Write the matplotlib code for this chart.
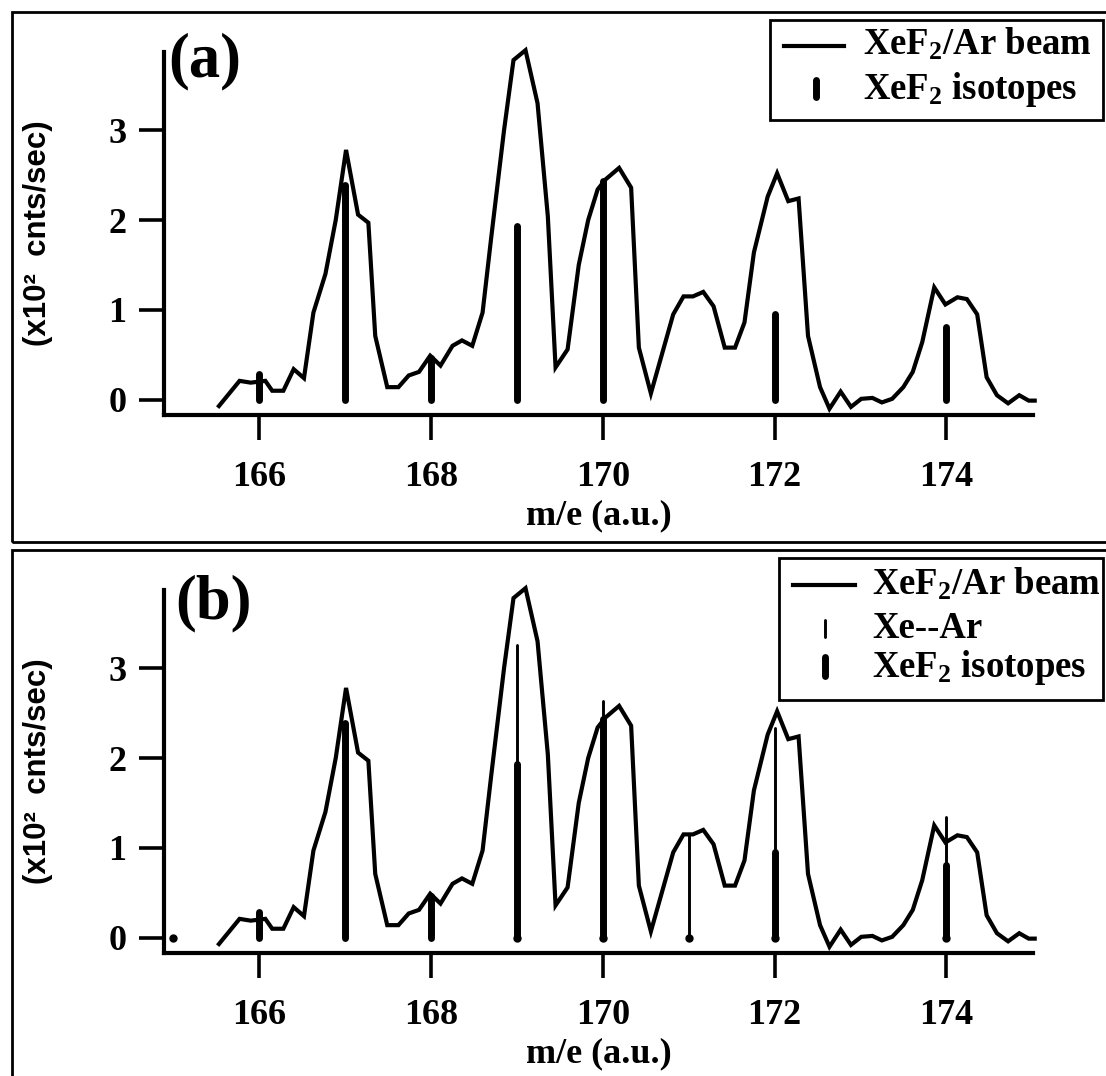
import matplotlib
matplotlib.use('Agg')
import matplotlib.pyplot as plt
from matplotlib.lines import Line2D
from matplotlib.patches import Rectangle

# ---------------- data ----------------
mass = [165.53, 165.77, 165.90, 166.07, 166.15, 166.28, 166.40, 166.52, 166.63, 166.77,
        166.89, 167.01, 167.15, 167.27, 167.35, 167.49, 167.62, 167.74, 167.86, 167.99,
        168.11, 168.25, 168.36, 168.48, 168.60, 168.70, 168.85, 168.96, 169.10, 169.24,
        169.36, 169.45, 169.59, 169.72, 169.83, 169.94, 170.03, 170.19, 170.33, 170.42,
        170.56, 170.82, 170.94, 171.05, 171.17, 171.29, 171.42, 171.54, 171.65, 171.76,
        171.92, 172.03, 172.16, 172.28, 172.39, 172.53, 172.64, 172.77, 172.89, 173.01,
        173.14, 173.25, 173.37, 173.50, 173.61, 173.72, 173.86, 173.99, 174.13, 174.24,
        174.36, 174.47, 174.59, 174.72, 174.85, 174.96, 175.03]
signal = [-0.07, 0.21, 0.19, 0.21, 0.10, 0.10, 0.34, 0.24, 0.97, 1.40,
          2.00, 2.78, 2.06, 1.97, 0.71, 0.14, 0.14, 0.27, 0.31, 0.49,
          0.38, 0.60, 0.66, 0.60, 0.97, 1.80, 3.00, 3.78, 3.89, 3.30,
          2.04, 0.36, 0.56, 1.50, 2.00, 2.34, 2.45, 2.58, 2.36, 0.58,
          0.07, 0.95, 1.15, 1.15, 1.20, 1.04, 0.58, 0.58, 0.86, 1.64,
          2.26, 2.52, 2.21, 2.24, 0.71, 0.14, -0.10, 0.09, -0.08, 0.01,
          0.02, -0.03, 0.01, 0.14, 0.31, 0.64, 1.25, 1.06, 1.14, 1.12,
          0.95, 0.25, 0.05, -0.04, 0.05, -0.01, -0.01]

xef2_mass = [166, 167, 168, 169, 170, 172, 174]
xef2_height = [0.29, 2.39, 0.46, 1.93, 2.43, 0.95, 0.81]

xear_mass = [165, 169, 170, 171, 172, 174]
xear_height = [0.0, 3.26, 2.64, 1.14, 2.33, 1.34]

xticks = [166, 168, 170, 172, 174]
yticks = [0, 1, 2, 3]

beam_label = 'XeF$_2$/Ar beam'
iso_label = 'XeF$_2$ isotopes'
xear_label = 'Xe--Ar'
xlabel = 'm/e (a.u.)'
ylabel = '(x10²  cnts/sec)'

# ---------------- style ----------------
W, H = 1106, 1076
plt.rcParams.update({
    'font.family': ['Liberation Serif', 'DejaVu Serif'],
    'font.weight': 'bold',
    'axes.labelweight': 'bold',
    'mathtext.fontset': 'custom',
    'mathtext.rm': 'Liberation Serif:bold',
    'mathtext.bf': 'Liberation Serif:bold',
    'mathtext.it': 'Liberation Serif:bold',
})

fig = plt.figure(figsize=(W / 100, H / 100), dpi=100)


def fx(x):
    return x / W


def fy(y):
    return 1 - y / H


LW_CURVE = 3.0
LW_THICK = 5.0
LW_THIN = 2.1


def make_panel(top_px, bottom_px, tag, tag_xy, with_xear):
    ax = fig.add_axes([fx(164), fy(bottom_px), (1033 - 164) / W, (bottom_px - top_px) / H])
    ax.set_xlim(164.89, 175.01)
    ax.set_ylim(-0.17, 3.87)
    ax.patch.set_alpha(0)
    for s in ['top', 'right']:
        ax.spines[s].set_visible(False)
    for s in ['left', 'bottom']:
        ax.spines[s].set_linewidth(3.0)
        ax.spines[s].set_capstyle('projecting')
    ax.set_xticks(xticks)
    ax.set_yticks(yticks)
    ax.tick_params(direction='out', length=18, width=2.6, labelsize=26)
    ax.tick_params(axis='x', pad=15)
    ax.tick_params(axis='y', pad=9)

    ax.vlines(xef2_mass, 0, xef2_height, colors='k', linewidth=LW_THICK,
              capstyle='round', clip_on=False)
    if with_xear:
        ax.vlines(xear_mass, 0, xear_height, colors='k', linewidth=LW_THIN,
                  capstyle='round', clip_on=False)
        ax.plot(xear_mass, [0] * len(xear_mass), 'o', color='k', ms=5, clip_on=False)
    ax.plot(mass, signal, color='k', lw=LW_CURVE, clip_on=False, solid_joinstyle='miter')

    ax.set_xlabel(xlabel, fontsize=26, fontweight='bold')
    ax.xaxis.set_label_coords(0.5, -0.232)
    ax.set_ylabel(ylabel, fontsize=22.5, fontfamily='Liberation Sans', fontweight='bold')
    ax.yaxis.set_label_coords((53 - 164) / (1033 - 164), 0.5)

    fig.text(fx(tag_xy[0]), fy(tag_xy[1]), tag, fontsize=45, ha='left', va='baseline')
    return ax


make_panel(52, 415, '(a)', (168, 76), False)
make_panel(590, 953, '(b)', (175, 618), True)

# ---------------- frames ----------------
fig.add_artist(Rectangle((fx(12), fy(542)), (1130 - 12) / W, (542 - 12) / H,
                         transform=fig.transFigure, fill=False, lw=2.0, ec='k'))
fig.add_artist(Rectangle((fx(12), fy(1100)), (1130 - 12) / W, (1100 - 550) / H,
                         transform=fig.transFigure, fill=False, lw=2.0, ec='k'))

# ---------------- legends ----------------
# (a)
fig.add_artist(Rectangle((fx(770), fy(120)), (1103 - 770) / W, (120 - 20) / H,
                         transform=fig.transFigure, fill=True, fc='white', lw=2.0, ec='k'))
fig.add_artist(Line2D([fx(784), fx(844)], [fy(46), fy(46)], lw=LW_CURVE, color='k',
                      transform=fig.transFigure))
fig.add_artist(Line2D([fx(816), fx(816)], [fy(80), fy(97)], lw=LW_THICK, color='k',
                      solid_capstyle='round', transform=fig.transFigure))
fig.text(fx(863), fy(55), beam_label, fontsize=26.5, ha='left', va='baseline')
fig.text(fx(863), fy(99), iso_label, fontsize=26.5, ha='left', va='baseline')

# (b)
fig.add_artist(Rectangle((fx(779), fy(700)), (1103 - 779) / W, (700 - 558) / H,
                         transform=fig.transFigure, fill=True, fc='white', lw=2.0, ec='k'))
fig.add_artist(Line2D([fx(793), fx(855)], [fy(585), fy(585)], lw=LW_CURVE, color='k',
                      transform=fig.transFigure))
fig.add_artist(Line2D([fx(825), fx(825)], [fy(620), fy(637)], lw=LW_THIN, color='k',
                      solid_capstyle='round', transform=fig.transFigure))
fig.add_artist(Line2D([fx(825), fx(825)], [fy(657), fy(676)], lw=LW_THICK, color='k',
                      solid_capstyle='round', transform=fig.transFigure))
fig.text(fx(872), fy(595), beam_label, fontsize=26.5, ha='left', va='baseline')
fig.text(fx(872), fy(638), xear_label, fontsize=26.5, ha='left', va='baseline')
fig.text(fx(872), fy(677), iso_label, fontsize=26.5, ha='left', va='baseline')

fig.savefig('out.png', dpi=100)
